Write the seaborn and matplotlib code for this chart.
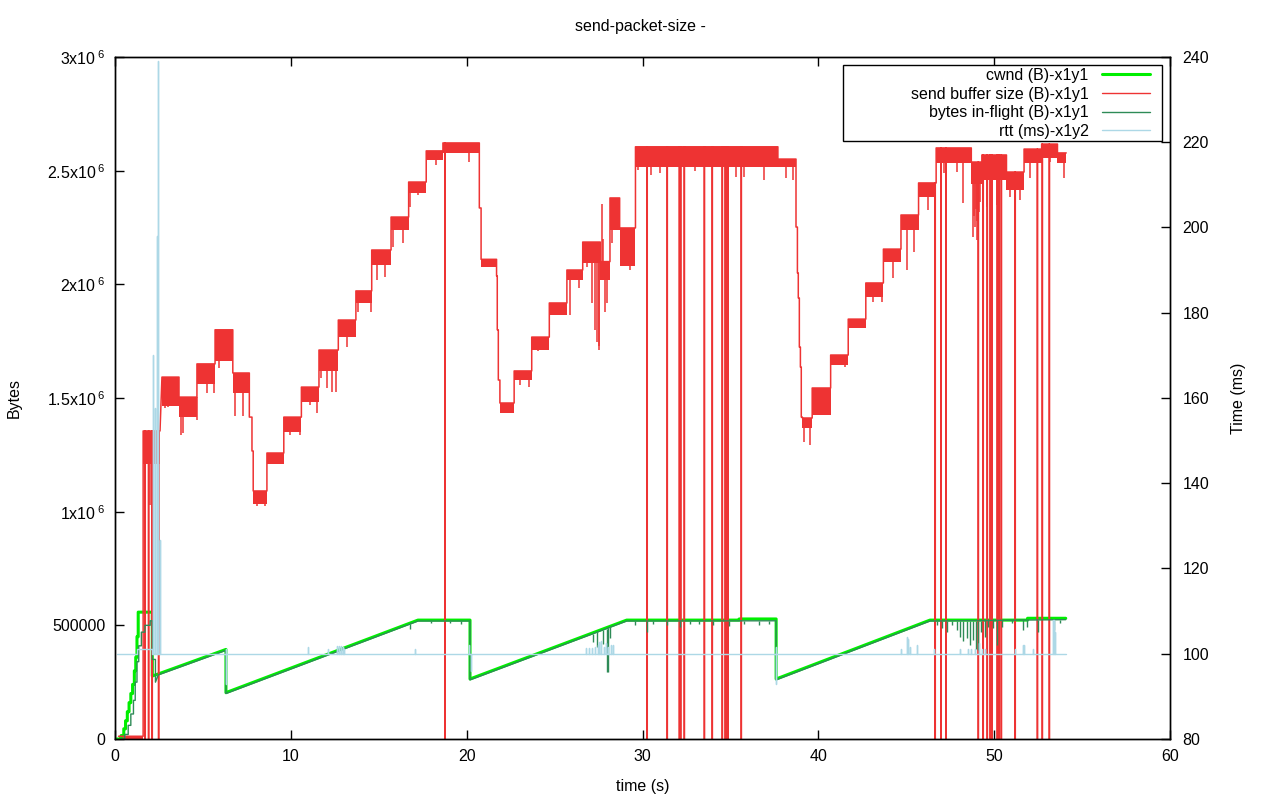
import numpy as np
import matplotlib
matplotlib.use("Agg")
import matplotlib.pyplot as plt
from matplotlib.patches import Rectangle
from matplotlib.lines import Line2D
import seaborn as sns

# ---------------- data ----------------
title = "send-packet-size -"
x_ticks = [0, 10, 20, 30, 40, 50, 60]
y_ticks = [0, 500000, 1000000, 1500000, 2000000, 2500000, 3000000]
y_tick_labels = ["0", "500000", r"1x10$\,^{6}$", r"1.5x10$\,^{6}$", r"2x10$\,^{6}$",
                 r"2.5x10$\,^{6}$", r"3x10$\,^{6}$"]
y2_ticks = [80, 100, 120, 140, 160, 180, 200, 220, 240]
legend_labels = ["cwnd (B)-x1y1", "send buffer size (B)-x1y1",
                 "bytes in-flight (B)-x1y1", "rtt (ms)-x1y2"]

# cwnd (bytes)
cwnd_t = [0.10, 0.35, 0.35, 0.50, 0.50, 0.60, 0.60, 0.70, 0.70, 0.80,
          0.80, 0.90, 0.90, 1.00, 1.00, 1.10, 1.10, 1.18, 1.18, 1.25,
          1.25, 1.32, 1.32, 2.12, 2.12, 2.46, 6.31, 6.31, 17.23, 20.19,
          20.19, 29.10, 35.50, 35.50, 37.60, 37.60, 46.35, 51.90, 51.90, 54.07]
cwnd_v = [0, 0, 15000, 15000, 45000, 45000, 80000, 80000, 120000, 120000,
          160000, 160000, 200000, 200000, 240000, 240000, 300000, 300000, 360000, 360000,
          450000, 450000, 558000, 558000, 277000, 286000, 394000, 204000, 523000, 523000,
          264000, 523000, 523000, 528000, 528000, 264000, 523000, 523000, 531000, 531000]

# send buffer size: plateaus (start, end, upper level, lower edge of dense band)
buf_start = [0.20, 1.60, 2.67, 3.64, 4.66, 5.69, 6.70, 7.64, 7.79, 7.86,
             8.64, 9.60, 10.60, 11.60, 12.70, 13.70, 14.60, 15.70, 16.70, 17.70,
             18.65, 20.72, 20.82, 21.70, 21.74, 21.80, 21.89, 22.70, 23.70, 24.70,
             25.70, 26.60, 27.60, 28.15, 28.70, 29.60, 37.70, 38.73, 38.81, 38.86,
             38.92, 38.98, 39.03, 39.09, 39.65, 40.70, 41.70, 42.70, 43.70, 44.70,
             45.70, 46.70, 48.70, 49.30, 50.70, 51.70, 52.70, 53.60]
buf_end = [1.60, 2.56, 3.64, 4.66, 5.69, 6.70, 7.64, 7.79, 7.86, 8.64,
           9.60, 10.60, 11.60, 12.70, 13.70, 14.60, 15.70, 16.70, 17.70, 18.65,
           20.72, 20.82, 21.70, 21.74, 21.80, 21.89, 22.70, 23.70, 24.70, 25.70,
           26.60, 27.60, 28.15, 28.70, 29.60, 37.70, 38.73, 38.81, 38.86, 38.92,
           38.98, 39.03, 39.09, 39.65, 40.70, 41.70, 42.70, 43.70, 44.70, 45.70,
           46.70, 48.70, 49.30, 50.70, 51.70, 52.70, 53.60, 54.10]
buf_top = [12000, 1355000, 1592000, 1504000, 1650000, 1800000, 1610000, 1416000, 1267000, 1091000,
           1258000, 1416000, 1548000, 1711000, 1843000, 1971000, 2151000, 2296000, 2450000, 2587000,
           2622000, 2336000, 2110000, 2037000, 1800000, 1579000, 1478000, 1619000, 1768000, 1918000,
           2063000, 2186000, 2100000, 2380000, 2248000, 2605000, 2551000, 2252000, 2050000, 1940000,
           1724000, 1636000, 1416000, 1412000, 1544000, 1689000, 1847000, 2006000, 2155000, 2305000,
           2446000, 2600000, 2538000, 2569000, 2494000, 2595000, 2617000, 2578000]
buf_low = [0, 1210000, 1465000, 1416000, 1562000, 1663000, 1522000, 1416000, 1267000, 1034000,
           1210000, 1350000, 1482000, 1620000, 1768000, 1918000, 2085000, 2239000, 2400000, 2547000,
           2578000, 2336000, 2076000, 2037000, 1800000, 1579000, 1434000, 1579000, 1711000, 1865000,
           2019000, 2094000, 2020000, 2240000, 2080000, 2515000, 2516000, 2252000, 2050000, 1940000,
           1724000, 1636000, 1416000, 1368000, 1425000, 1645000, 1808000, 1944000, 2098000, 2239000,
           2384000, 2534000, 2440000, 2460000, 2415000, 2534000, 2556000, 2534000]
# samples where the send buffer drops to zero
buf_drop_t = [1.72, 1.91, 2.12, 2.48, 18.78, 30.27, 31.41, 32.10, 32.17, 32.38,
              33.52, 33.97, 34.54, 34.71, 34.78, 34.85, 35.62, 46.65, 46.99, 47.27,
              49.10, 49.38, 49.61, 49.78, 49.89, 50.18, 50.29, 50.41, 51.20, 52.46,
              52.74, 53.14]
# isolated deeper excursions of the send buffer
buf_dip_t = [1.99, 2.84, 3.03, 3.73, 3.89, 4.64, 5.21, 5.65, 5.93, 6.10,
             6.85, 7.30, 8.06, 8.53, 9.95, 10.52, 11.09, 11.47, 11.70, 12.08,
             12.32, 12.57, 13.18, 13.80, 14.54, 14.92, 15.36, 15.79, 16.36, 16.78,
             17.25, 18.24, 20.13, 23.03, 23.56, 24.07, 24.59, 25.88, 26.39, 26.86,
             27.14, 27.30, 27.39, 27.50, 27.54, 27.71, 27.75, 27.87, 27.96, 28.24,
             28.76, 29.28, 29.76, 38.14, 38.54, 39.20, 39.53, 39.81, 40.47, 41.52,
             43.13, 43.60, 44.27, 45.06, 45.44, 46.25, 47.15, 47.87, 48.21, 48.78,
             49.00, 49.57, 50.18, 50.90, 51.47, 52.04, 53.18, 53.96,
             30.50, 31.00, 33.00, 35.30, 35.80, 36.90,
             48.84, 48.90, 48.95, 49.05, 49.15, 49.22]
buf_dip_v = [1030000, 1455000, 1460000, 1337000, 1345000, 1405000, 1523000, 1523000, 1631000, 1661000,
             1420000, 1420000, 1023000, 1023000, 1337000, 1337000, 1469000, 1433000, 1587000, 1543000,
             1528000, 1528000, 1726000, 1880000, 1880000, 2019000, 2034000, 2166000, 2180000, 2342000,
             2393000, 2525000, 2540000, 1557000, 1550000, 1708000, 1710000, 1865000, 1982000, 2078000,
             1916000, 1800000, 1748000, 1730000, 1711000, 2353000, 2200000, 1880000, 1916000, 2180000,
             2092000, 2063000, 2503000, 2466000, 2457000, 1308000, 1293000, 1425000, 1425000, 1638000,
             1924000, 1924000, 2027000, 2063000, 2144000, 2327000, 2488000, 2495000, 2356000, 2210000,
             2195000, 2340000, 2349000, 2385000, 2371000, 2466000, 2540000, 2466000,
             2480000, 2490000, 2500000, 2470000, 2470000, 2460000,
             2300000, 2250000, 2330000, 2280000, 2320000, 2360000]

# bytes in flight
bif_t = [0.30, 0.55, 0.55, 0.75, 0.75, 0.90, 0.90, 1.05, 1.05, 1.15,
         1.15, 1.25, 1.25, 1.35, 1.35, 1.50, 1.50, 1.70, 1.70, 2.00,
         2.00, 2.12, 2.12, 2.30, 2.30, 2.46, 6.31, 6.31, 17.23, 20.19,
         20.19, 29.10, 37.60, 37.60, 46.35, 54.07]
bif_v = [0, 0, 20000, 20000, 60000, 60000, 110000, 110000, 170000, 170000,
         250000, 250000, 340000, 340000, 410000, 410000, 470000, 470000, 500000, 500000,
         520000, 520000, 350000, 350000, 250000, 282000, 390000, 200000, 519000, 519000,
         260000, 519000, 520000, 260000, 519000, 525000]
bif_dip_t = [16.78, 17.95, 19.05, 19.66, 27.17, 27.39, 27.73, 27.96, 28.06, 28.15,
             29.57, 30.24, 30.62, 31.37, 32.13, 32.70, 33.20, 34.00, 34.90, 35.80,
             36.60, 37.20, 46.73, 47.01, 47.30, 47.58, 47.91, 48.06, 48.25, 48.47,
             48.63, 48.81, 48.97, 49.10, 49.25, 49.48, 49.67, 49.95, 50.14, 50.43,
             50.99, 51.62, 51.85, 52.51, 53.40, 53.74]
bif_dip_v = [482000, 511000, 511000, 508000, 428000, 406000, 420000, 296000, 296000, 443000,
             502000, 472000, 505000, 502000, 494000, 508000, 505000, 500000, 498000, 505000,
             500000, 508000, 501000, 487000, 472000, 501000, 479000, 450000, 432000, 443000,
             413000, 435000, 394000, 391000, 472000, 450000, 494000, 487000, 413000, 494000,
             509000, 479000, 494000, 472000, 479000, 509000]

# rtt (ms): baseline and spikes
rtt_t = [0.10, 1.25, 1.25, 2.10, 2.10, 54.10]
rtt_v = [100, 100, 101, 101, 100, 100]
rtt_spike_t = [2.18, 2.27, 2.37, 2.43, 2.46, 2.56, 6.29, 6.33, 11.0, 12.1,
               12.6, 12.75, 12.85, 12.95, 13.05, 17.08, 20.15, 20.25, 26.8, 26.95,
               27.1, 27.3, 27.45, 27.55, 27.65, 27.8, 27.9, 28.05, 28.2, 28.3,
               37.58, 37.62, 44.68, 45.04, 45.1, 45.2, 45.6, 46.6, 48.06, 48.5,
               48.7, 48.9, 49.14, 49.3, 49.5, 51.2, 51.62, 51.7, 52.2, 53.33,
               53.4, 53.44]
rtt_spike_v = [170, 157.6, 198, 201, 239, 126.7, 101.2, 93, 101.5, 101.2,
               101.8, 101.8, 101.8, 101.5, 101.2, 101.2, 102, 96, 101.3, 101.3,
               101.3, 101.5, 102, 102.8, 103, 101.5, 102.5, 101.5, 102, 102,
               101.5, 93, 101.2, 104, 103.5, 101.5, 102, 101.2, 101.2, 101.2,
               101.2, 101.2, 102.6, 101.2, 101.2, 101.2, 102, 102, 101.2, 108,
               108, 105]

# ---------------- style ----------------
C_CWND = "#00ee00"
C_BUF = "#ee3333"
C_BIF = "#2e8b57"
C_RTT = "#add8e6"
FS = 11.5

sns.set_style("white")
plt.rcParams["font.family"] = ["Liberation Sans", "DejaVu Sans"]
plt.rcParams.update({
    "mathtext.fontset": "custom",
    "mathtext.rm": "Liberation Sans",
    "mathtext.it": "Liberation Sans",
    "mathtext.bf": "Liberation Sans",
    "mathtext.default": "regular",
    "axes.edgecolor": "black",
    "axes.linewidth": 1.0,
    "text.color": "black",
    "axes.labelcolor": "black",
    "xtick.color": "black",
    "ytick.color": "black",
})

fig = plt.figure(figsize=(12.8, 8), dpi=100)
ax = fig.add_axes([115 / 1280, 61 / 800, 1055 / 1280, 682 / 800])
ax2 = ax.twinx()


def buf_level(t):
    for s, e, top in zip(buf_start, buf_end, buf_top):
        if s <= t <= e:
            return top
    return 0


# cwnd
sns.lineplot(x=cwnd_t, y=cwnd_v, ax=ax, color=C_CWND, lw=2.2, sort=False,
             estimator=None, errorbar=None)

# send buffer: dense band + line + drops + dips
for s, e, top, low in zip(buf_start, buf_end, buf_top, buf_low):
    if top > low:
        ax.fill_between([s, e], [low, low], [top, top], color=C_BUF, lw=0)
pts = []
for s, e, top in zip(buf_start, buf_end, buf_top):
    pts += [(s, top), (e, top)]
for d in buf_drop_t:
    lvl = buf_level(d)
    pts += [(d, lvl), (d, 0), (d, lvl)]
pts.sort(key=lambda p: p[0])
bx = [p[0] for p in pts]
by = [p[1] for p in pts]
sns.lineplot(x=bx, y=by, ax=ax, color=C_BUF, lw=1.1, sort=False,
             estimator=None, errorbar=None)
ax.vlines(buf_dip_t, [buf_level(t) for t in buf_dip_t], buf_dip_v,
          color=C_BUF, lw=1.1)

# bytes in flight
sns.lineplot(x=bif_t, y=bif_v, ax=ax, color=C_BIF, lw=1.0, sort=False,
             estimator=None, errorbar=None)
ax.vlines(bif_dip_t, np.interp(bif_dip_t, bif_t, bif_v), bif_dip_v,
          color=C_BIF, lw=1.0)

# rtt on second axis
rp = list(zip(rtt_t, rtt_v))
for t, v in zip(rtt_spike_t, rtt_spike_v):
    base = 101 if 1.25 <= t <= 2.10 else 100
    rp += [(t, base), (t, v), (t, base)]
rp.sort(key=lambda p: p[0])
sns.lineplot(x=[p[0] for p in rp], y=[p[1] for p in rp], ax=ax2, color=C_RTT,
             lw=1.0, sort=False, estimator=None, errorbar=None)

# ---------------- axes ----------------
ax.set_xlim(0, 60)
ax.set_ylim(0, 3000000)
ax2.set_ylim(80, 240)
ax.set_xticks(x_ticks)
ax.set_xticklabels([str(v) for v in x_ticks], fontsize=FS)
ax.set_yticks(y_ticks)
ax.set_yticklabels(y_tick_labels, fontsize=FS)
ax2.set_yticks(y2_ticks)
ax2.set_yticklabels([str(v) for v in y2_ticks], fontsize=FS)
ax.tick_params(axis="x", direction="in", length=6.5, width=1, top=True, bottom=True, pad=7)
ax.tick_params(axis="y", direction="in", length=6.5, width=1, left=True, right=False, pad=7)
ax2.tick_params(axis="y", direction="in", length=6.5, width=1, right=True, left=False, pad=9)
for a in (ax, ax2):
    for sp in a.spines.values():
        sp.set_color("black")
        sp.set_linewidth(1.0)
ax.grid(False)
ax2.grid(False)

ax.set_xlabel("time (s)", fontsize=FS)
ax.xaxis.set_label_coords(0.5, -0.058)
ax.set_ylabel("Bytes", fontsize=FS)
ax.yaxis.set_label_coords(-0.088, 0.5)
ax2.set_ylabel("Time (ms)", fontsize=FS)
ax2.yaxis.set_label_coords(1.0575, 0.5)
fig.text(0.5, 1 - 27 / 800, title, ha="center", va="center", fontsize=FS)

# legend box
ax2.add_patch(Rectangle((0.690, 0.877), 0.302, 0.111, transform=ax2.transAxes,
                        facecolor="white", edgecolor="black", lw=1.0, zorder=4))
handles = [Line2D([], [], color=C_CWND, lw=2.2),
           Line2D([], [], color=C_BUF, lw=1.0),
           Line2D([], [], color=C_BIF, lw=1.0),
           Line2D([], [], color=C_RTT, lw=1.0)]
leg = ax2.legend(handles, legend_labels, loc="upper right", bbox_to_anchor=(0.981, 0.9840),
                 bbox_transform=ax2.transAxes, frameon=False, markerfirst=False,
                 fontsize=FS, handlelength=3.0, handletextpad=0.85, labelspacing=0.23,
                 borderpad=0, borderaxespad=0)
leg.set_zorder(5)

fig.savefig("out.png", dpi=100)
